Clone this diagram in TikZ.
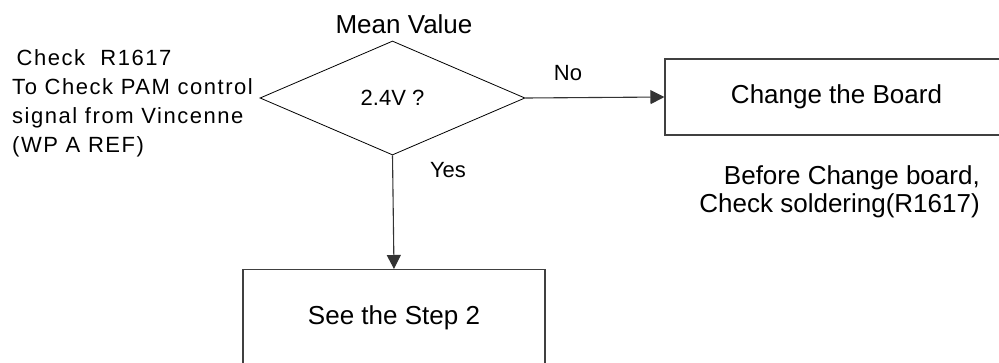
\documentclass[tikz,border=0pt]{standalone}
\usepackage{fontspec}
\setmainfont{Liberation Sans}
\newfontfamily\spacedfont[LetterSpace=7]{Liberation Sans}
\usetikzlibrary{shapes.geometric,arrows.meta}
\begin{document}
\begin{tikzpicture}[x=1pt,y=-1pt,
  big/.style={font=\fontsize{26}{28}\selectfont},
  small/.style={font=\fontsize{22}{26}\selectfont},
  boxline/.style={draw=black!75,line width=1.1pt},
  conn/.style={draw=black!80,line width=1.1pt,-{Triangle[length=14pt,width=14pt]}}]
\useasboundingbox (0,0) rectangle (999,362);
\fill[white] (0,0) rectangle (999,362);
\node[diamond,draw=black,line width=0.8pt,minimum width=265pt,minimum height=114pt,inner sep=0,small] (dec) at (392.5,98) {2.4V ?};
\node[rectangle,boxline,minimum width=343pt,minimum height=76pt,big] (chg) at (836.5,97) {Change the Board};
\node[rectangle,boxline,minimum width=302pt,inner sep=0,text height=55pt,text depth=51pt,big,anchor=north] (step) at (394,269) {See the Step 2};
\draw[conn] (dec.east) -- (chg.west);
\draw[conn] (dec.south) -- (step.north);
\node[big,anchor=base] (mean) at (404,33) {Mean Value};
\node[small,anchor=base] (no) at (568,80) {No};
\node[small,anchor=base] (yes) at (448,177) {Yes};
\node[anchor=north west,inner sep=0,align=left,font=\spacedfont\fontsize{22}{29}\selectfont] (note) at (12,49.7) {\hspace*{4.5pt}Check\ \ R1617\\To Check PAM control\\signal from Vincenne\\(WP A REF)};
\node[big,anchor=north east,inner sep=0,align=right] (before) at (980,165) {Before Change board,\\Check soldering(R1617)};
\end{tikzpicture}
\end{document}
